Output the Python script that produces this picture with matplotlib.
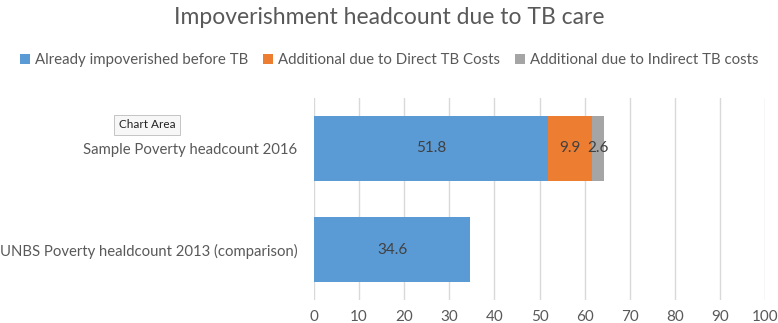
import matplotlib.pyplot as plt
import numpy as np

plt.rcParams['font.family'] = ['Lato', 'DejaVu Sans']

categories = ["Sample Poverty headcount 2016", "UNBS Poverty healdcount 2013 (comparison)"]
series_names = ["Already impoverished before TB",
                "Additional due to Direct TB Costs",
                "Additional due to Indirect TB costs"]
already = [51.8, 34.6]
direct = [9.9, 0]
indirect = [2.6, 0]
colors = ["#5B9BD5", "#ED7D31", "#A5A5A5"]

fig = plt.figure(figsize=(7.78, 3.23), dpi=100)
ax = fig.add_axes([0.4036, 0.0712, 0.5797, 0.6254])

y = np.arange(len(categories))
left = np.zeros(len(categories))
for name, vals, col in zip(series_names, [already, direct, indirect], colors):
    vals = np.array(vals, dtype=float)
    bars = ax.barh(y, vals, left=left, height=0.65, color=col, label=name, zorder=3)
    for b, v in zip(bars, vals):
        if v > 0:
            ax.text(b.get_x() + b.get_width() / 2, b.get_y() + b.get_height() / 2, f"{v:g}",
                    ha='center', va='center', fontsize=11, color='#404040', zorder=4)
    left += vals

ax.set_xlim(0, 100)
ax.set_ylim(1.5, -0.5)
ax.set_xticks(np.arange(0, 101, 10))
ax.set_yticks(y)
ax.set_yticklabels(categories)
ax.tick_params(axis='x', length=0, labelsize=11, labelcolor='#595959', pad=7)
ax.tick_params(axis='y', length=0, labelsize=10.7, labelcolor='#595959', pad=12)
ax.grid(axis='x', color='#D9D9D9', linewidth=1, zorder=0)
for s in ax.spines.values():
    s.set_visible(False)

fig.text(0.5, 1 - 17 / 323, "Impoverishment headcount due to TB care", ha='center', va='center',
         fontsize=16.5, color='#595959')

fig.legend(loc='center', bbox_to_anchor=(0.5, 1 - 60 / 323), ncol=3, frameon=False,
           fontsize=10.8, labelcolor='#595959', handlelength=0.7, handleheight=0.7,
           handletextpad=0.3, columnspacing=1.0)

fig.text(147 / 778, 1 - 125 / 323, "Chart Area", ha='center', va='center', fontsize=8.5,
         color='#222222',
         bbox=dict(boxstyle='square,pad=0.4', facecolor='#F7F7F7', edgecolor='#BBBBBB', linewidth=0.6))

plt.savefig("out.png", dpi=100)
